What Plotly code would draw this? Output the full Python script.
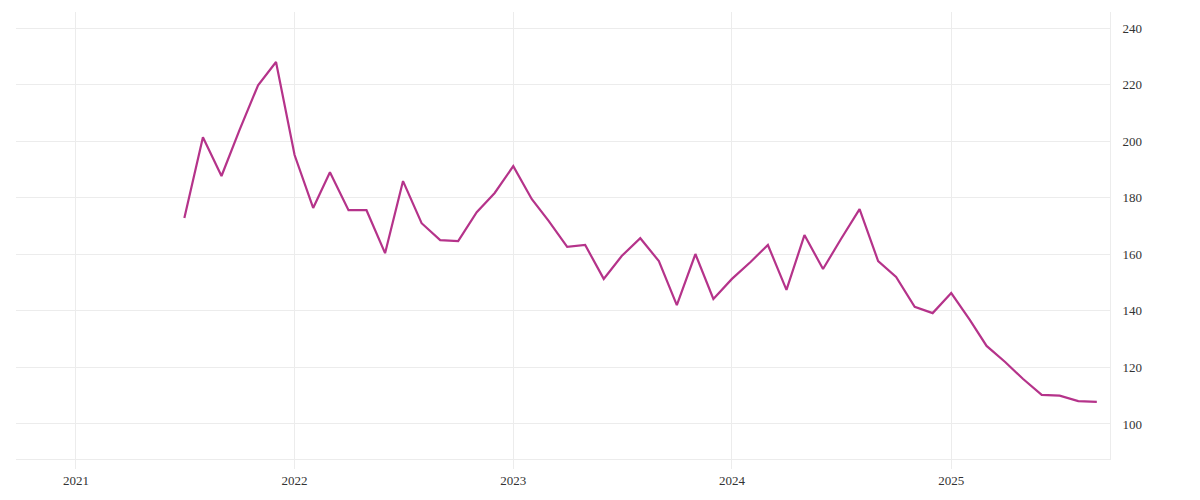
import pandas as pd
import plotly.graph_objects as go

dates = pd.date_range("2021-07-01", "2025-09-01", freq="MS")
values = [172.8, 201.4, 187.7, 203.9, 219.8, 228.0, 195.1, 176.4, 189.0, 175.6, 175.6, 160.4,
          185.9, 171.0, 165.0, 164.7, 174.9, 181.7, 191.2, 179.5, 171.8, 162.6, 163.3, 151.3,
          159.4, 165.7, 157.6, 142.0, 160.1, 144.2, 151.3, 157.3, 163.3, 147.4, 166.8, 154.8,
          165.4, 176.0, 157.6, 152.0, 141.4, 139.2, 146.3, 136.8, 127.6, 121.9, 115.9, 110.3,
          110.0, 108.1, 107.8]
tick_years = ["2021-01-01", "2022-01-01", "2023-01-01", "2024-01-01", "2025-01-01"]
tick_labels = ["2021", "2022", "2023", "2024", "2025"]

fig = go.Figure(go.Scatter(x=dates, y=values, mode="lines",
                           line=dict(color="#b5338a", width=2.2), hoverinfo="x+y"))
grid = "#ececec"
fig.update_layout(
    width=1200, height=500, plot_bgcolor="white", paper_bgcolor="white",
    margin=dict(l=8, r=98, t=4, b=49), showlegend=False,
    font=dict(family="Liberation Serif, DejaVu Serif, serif", size=13, color="#333"),
    xaxis=dict(range=["2020-09-23", "2025-09-23"], tickvals=tick_years, ticktext=tick_labels,
               showgrid=True, gridcolor=grid, zeroline=False, ticks="outside", ticklen=9,
               tickcolor=grid, showline=True, linecolor=grid),
    yaxis=dict(side="right", range=[87.6, 245.7], tickvals=[100, 120, 140, 160, 180, 200, 220, 240],
               showgrid=True, gridcolor=grid, zeroline=False, showline=True, linecolor=grid,
               ticks="outside", ticklen=9, tickcolor="white"),
)
fig.write_html("out.html")
